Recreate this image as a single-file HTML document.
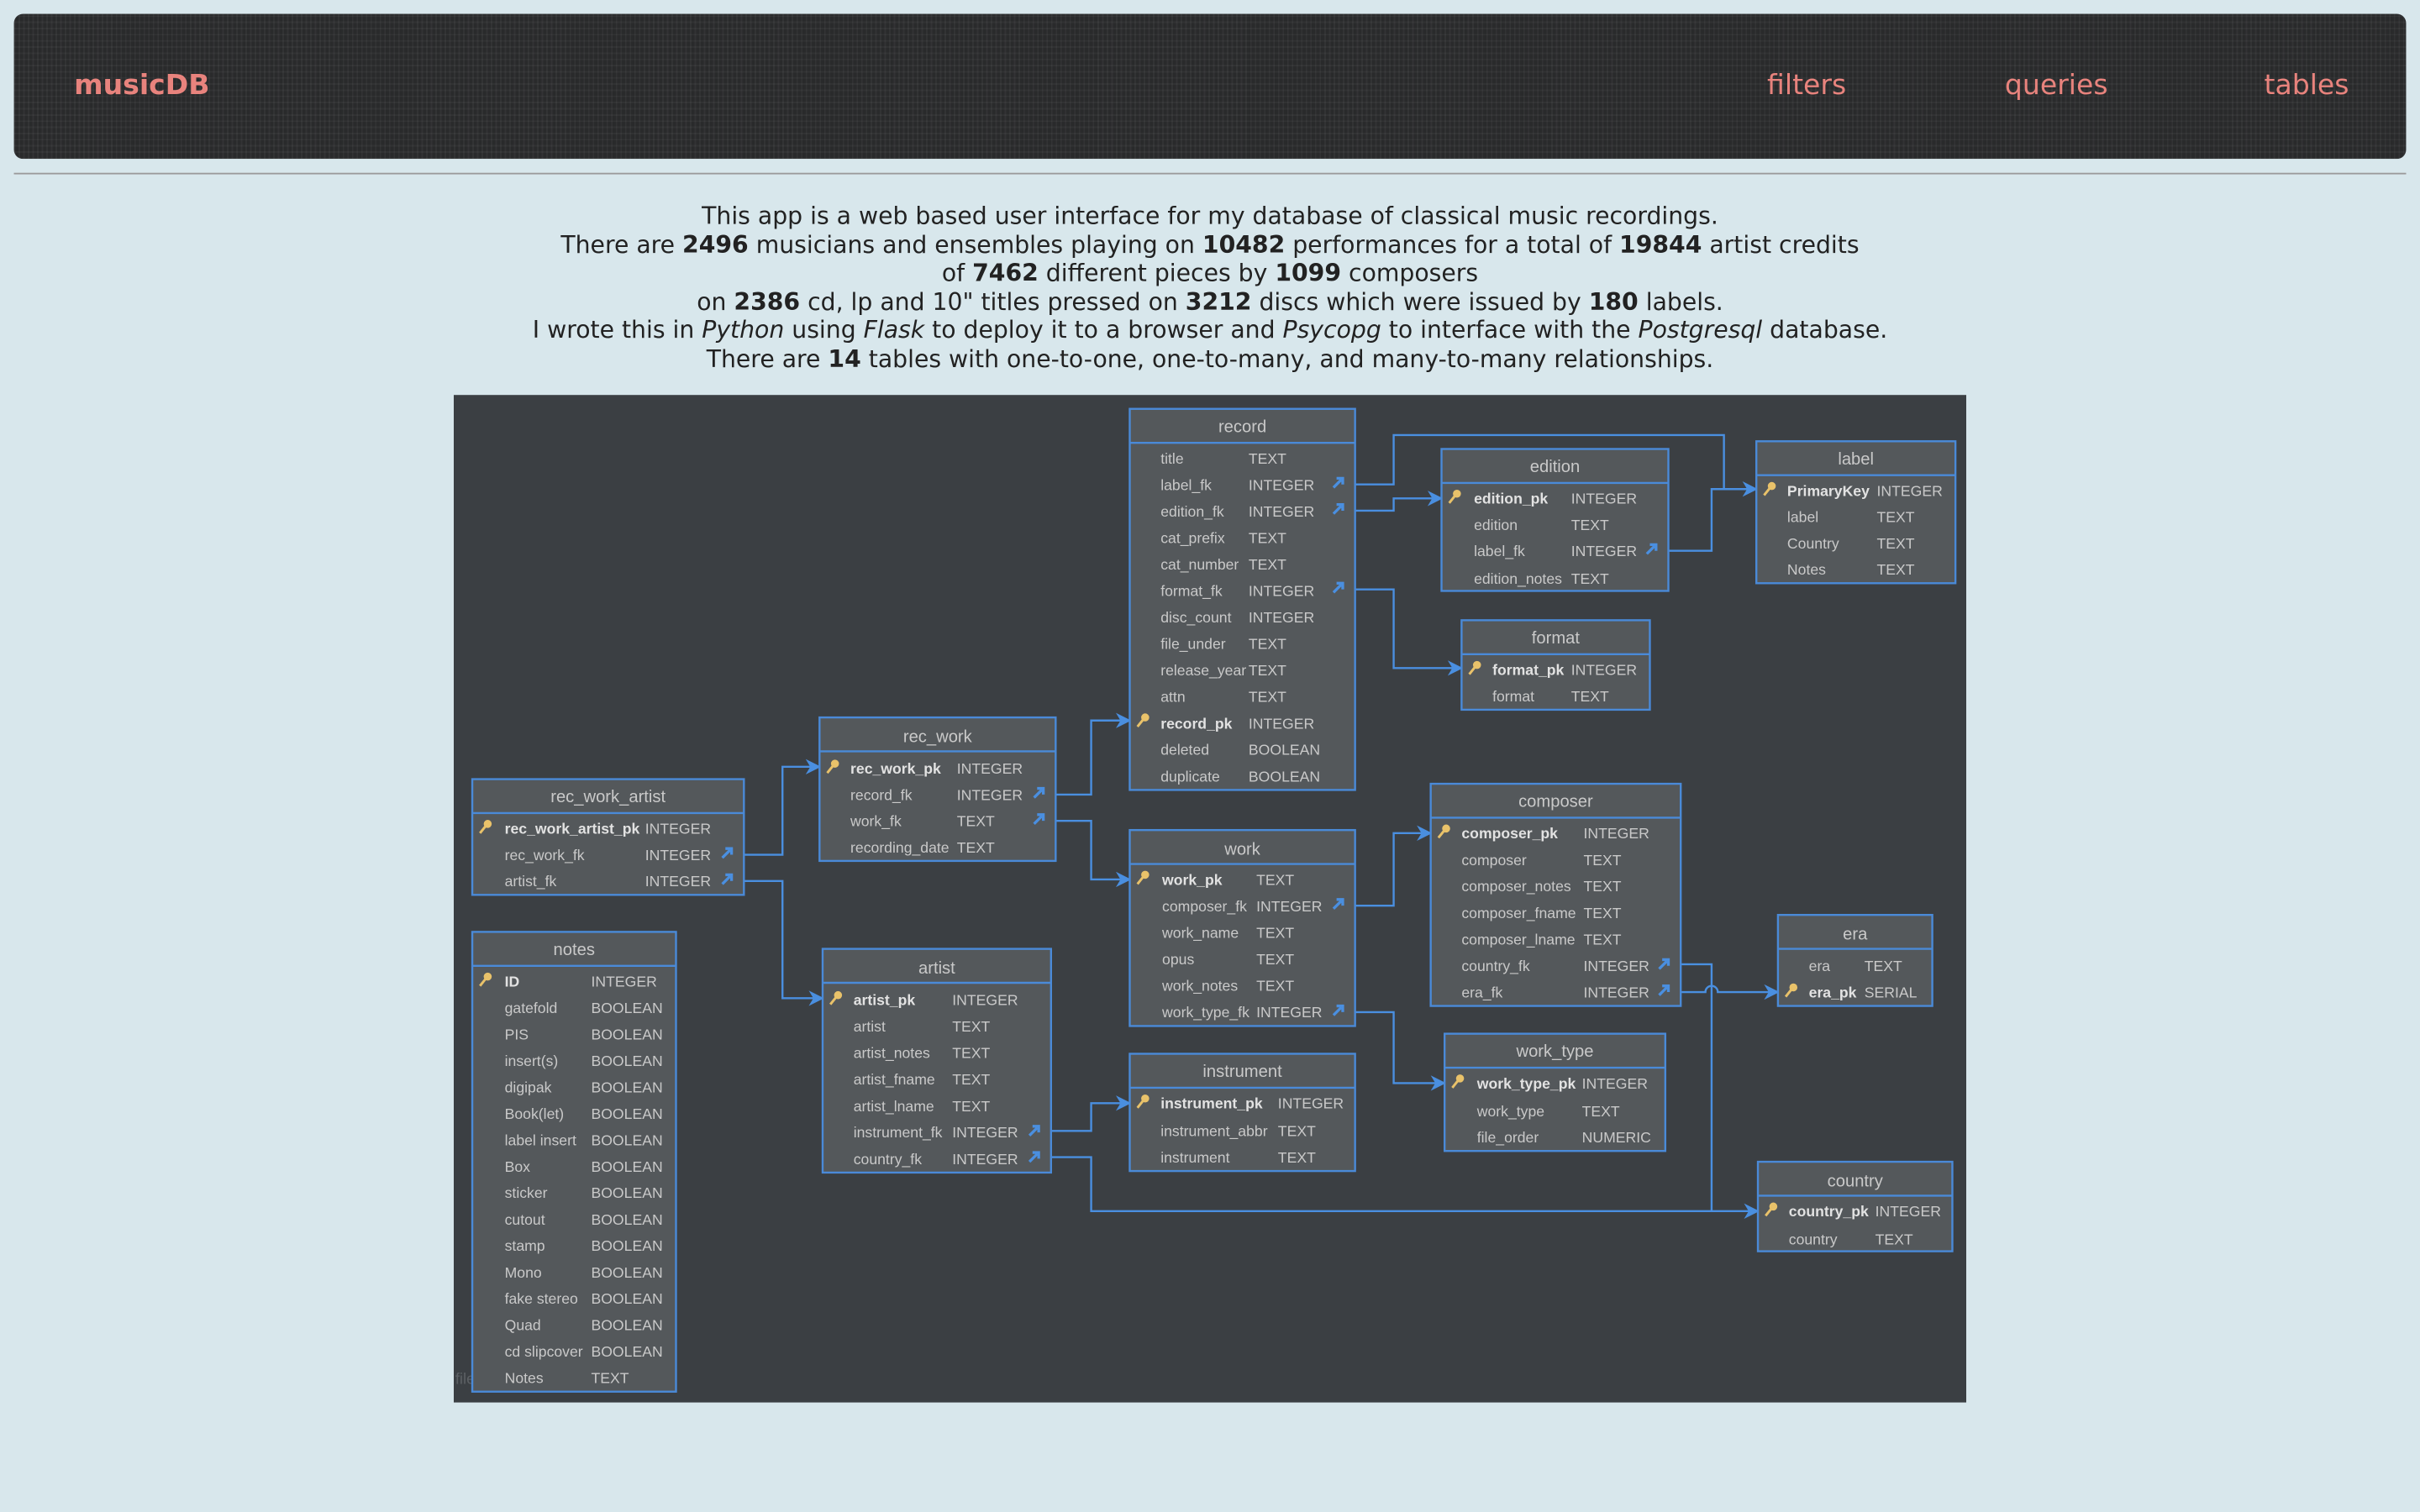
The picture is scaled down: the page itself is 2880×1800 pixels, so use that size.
<!DOCTYPE html>
<html><head><meta charset="utf-8"><style>
html,body{margin:0;padding:0;background:#d8e7ec;width:2880px;height:1800px;overflow:hidden}
#s{position:absolute;left:0;top:0;width:1568px;height:980px;transform:scale(1.836735);transform-origin:0 0;font-family:"DejaVu Sans","Liberation Sans",sans-serif}
#hd{position:absolute;left:9px;top:9px;width:1550px;height:94px;border-radius:6px;background:#292a2b;
background-image:repeating-linear-gradient(90deg,rgba(255,255,255,.045) 0 1px,transparent 1px 3px),repeating-linear-gradient(0deg,rgba(255,255,255,.04) 0 1px,transparent 1px 4px);}
.nv{position:absolute;top:45px;color:#e8837d;font-size:18px}
#hr{position:absolute;left:9px;top:112px;width:1550px;height:1px;background:#9a9a9a}
#tx{position:absolute;left:0;top:131px;width:1568px;text-align:center;font-size:15.4px;line-height:18.5px;color:#222}
svg text{font-family:"Liberation Sans",sans-serif}
</style></head><body><div id="s">
<div id="hd"></div>
<div class="nv" style="left:48px;font-weight:bold;font-size:18px;top:45px">musicDB</div>
<div class="nv" style="left:1145px">filters</div>
<div class="nv" style="left:1299px">queries</div>
<div class="nv" style="left:1467px">tables</div>
<div id="hr"></div>
<div id="tx">This app is a web based user interface for my database of classical music recordings.<br>
There are <b>2496</b> musicians and ensembles playing on <b>10482</b> performances for a total of <b>19844</b> artist credits<br>
of <b>7462</b> different pieces by <b>1099</b> composers<br>
on <b>2386</b> cd, lp and 10" titles pressed on <b>3212</b> discs which were issued by <b>180</b> labels.<br>
I wrote this in <i>Python</i> using <i>Flask</i> to deploy it to a browser and <i>Psycopg</i> to interface with the <i>Postgresql</i> database.<br>
There are <b>14</b> tables with one-to-one, one-to-many, and many-to-many relationships.</div>
<svg style="position:absolute;left:0;top:0" width="1568" height="980" viewBox="0 0 1568 980">
<defs>
<g id="k"><circle cx="3" cy="-2" r="2.6" fill="#e9c26a"/><line x1="2" y1="-1" x2="-2" y2="4" stroke="#e9c26a" stroke-width="1.6"/></g>
<g id="f"><path d="M-3 3 L2 -2 M-1 -3 L3 -3 L3 1" stroke="#4a8fe0" stroke-width="1.8" fill="none"/></g>
<marker id="a" markerWidth="10" markerHeight="10" refX="9" refY="5" orient="auto" markerUnits="userSpaceOnUse"><path d="M0 0 L10 5 L0 10 L3 5Z" fill="#4a8fe0"/></marker>
</defs>
<rect x="294" y="256" width="980" height="653" fill="#3b3f43"/>
<text x="295" y="897" font-size="10" fill="#5c6064">file</text>
<g fill="none" stroke="#4a8fe0" stroke-width="1.3">
<path d="M878 314H903V282H1117V317H1138" marker-end="url(#a)"/>
<path d="M878 331H903V323H934" marker-end="url(#a)"/>
<path d="M878 382H903V433H947" marker-end="url(#a)"/>
<path d="M1081 357H1109V317H1138"/>
<path d="M684 515H707V467H732" marker-end="url(#a)"/>
<path d="M684 532H707V570H732" marker-end="url(#a)"/>
<path d="M482 554H507V497H531" marker-end="url(#a)"/>
<path d="M482 571H507V647H533" marker-end="url(#a)"/>
<path d="M878 587H903V540H927" marker-end="url(#a)"/>
<path d="M878 656H903V702H936" marker-end="url(#a)"/>
<path d="M681 733H707V715H732" marker-end="url(#a)"/>
<path d="M681 750H707V785H1139" marker-end="url(#a)"/>
<path d="M1089 625H1109V785"/>
<path d="M1089 643H1105A4 4 0 0 1 1113 643H1152" marker-end="url(#a)"/>
</g>
<g font-size="9.6" fill="#c9c9c9">
<!-- record -->
<rect x="732" y="265" width="146" height="247" fill="#54585b" stroke="#4a8ad8" stroke-width="1.3"/><line x1="732" y1="287" x2="878" y2="287" stroke="#4a8ad8" stroke-width="1.3"/>
<text x="805" y="280" font-size="11" text-anchor="middle">record</text>
<text x="752" y="300.5">title</text><text x="809" y="300.5">TEXT</text>
<text x="752" y="317.7">label_fk</text><text x="809" y="317.7">INTEGER</text><use href="#f" x="867" y="313"/>
<text x="752" y="334.8">edition_fk</text><text x="809" y="334.8">INTEGER</text><use href="#f" x="867" y="330"/>
<text x="752" y="352">cat_prefix</text><text x="809" y="352">TEXT</text>
<text x="752" y="369.2">cat_number</text><text x="809" y="369.2">TEXT</text>
<text x="752" y="386.3">format_fk</text><text x="809" y="386.3">INTEGER</text><use href="#f" x="867" y="381"/>
<text x="752" y="403.5">disc_count</text><text x="809" y="403.5">INTEGER</text>
<text x="752" y="420.7">file_under</text><text x="809" y="420.7">TEXT</text>
<text x="752" y="437.8">release_year</text><text x="809" y="437.8">TEXT</text>
<text x="752" y="455">attn</text><text x="809" y="455">TEXT</text>
<use href="#k" x="739" y="467"/><text x="752" y="472.2" font-weight="bold" fill="#e2e2e2">record_pk</text><text x="809" y="472.2">INTEGER</text>
<text x="752" y="489.3">deleted</text><text x="809" y="489.3">BOOLEAN</text>
<text x="752" y="506.5">duplicate</text><text x="809" y="506.5">BOOLEAN</text>
<!-- edition -->
<rect x="934" y="291" width="147" height="92" fill="#54585b" stroke="#4a8ad8" stroke-width="1.3"/><line x1="934" y1="313" x2="1081" y2="313" stroke="#4a8ad8" stroke-width="1.3"/>
<text x="1007.5" y="306" font-size="11" text-anchor="middle">edition</text>
<use href="#k" x="941" y="322"/><text x="955" y="326.5" font-weight="bold" fill="#e2e2e2">edition_pk</text><text x="1018" y="326.5">INTEGER</text>
<text x="955" y="343.5">edition</text><text x="1018" y="343.5">TEXT</text>
<text x="955" y="360.5">label_fk</text><text x="1018" y="360.5">INTEGER</text><use href="#f" x="1070" y="356"/>
<text x="955" y="378.5">edition_notes</text><text x="1018" y="378.5">TEXT</text>
<!-- label -->
<rect x="1138" y="286" width="129" height="92" fill="#54585b" stroke="#4a8ad8" stroke-width="1.3"/><line x1="1138" y1="308" x2="1267" y2="308" stroke="#4a8ad8" stroke-width="1.3"/>
<text x="1202.5" y="301" font-size="11" text-anchor="middle">label</text>
<use href="#k" x="1145" y="317"/><text x="1158" y="321.5" font-weight="bold" fill="#e2e2e2">PrimaryKey</text><text x="1216" y="321.5">INTEGER</text>
<text x="1158" y="338.5">label</text><text x="1216" y="338.5">TEXT</text>
<text x="1158" y="355.5">Country</text><text x="1216" y="355.5">TEXT</text>
<text x="1158" y="372.5">Notes</text><text x="1216" y="372.5">TEXT</text>
<!-- format -->
<rect x="947" y="402" width="122" height="58" fill="#54585b" stroke="#4a8ad8" stroke-width="1.3"/><line x1="947" y1="424" x2="1069" y2="424" stroke="#4a8ad8" stroke-width="1.3"/>
<text x="1008" y="417" font-size="11" text-anchor="middle">format</text>
<use href="#k" x="954" y="433"/><text x="967" y="437.5" font-weight="bold" fill="#e2e2e2">format_pk</text><text x="1018" y="437.5">INTEGER</text>
<text x="967" y="454.5">format</text><text x="1018" y="454.5">TEXT</text>
<!-- rec_work -->
<rect x="531" y="465" width="153" height="93" fill="#54585b" stroke="#4a8ad8" stroke-width="1.3"/><line x1="531" y1="487" x2="684" y2="487" stroke="#4a8ad8" stroke-width="1.3"/>
<text x="607.5" y="481" font-size="11" text-anchor="middle">rec_work</text>
<use href="#k" x="538" y="497"/><text x="551" y="501.5" font-weight="bold" fill="#e2e2e2">rec_work_pk</text><text x="620" y="501.5">INTEGER</text>
<text x="551" y="518.5">record_fk</text><text x="620" y="518.5">INTEGER</text><use href="#f" x="673" y="514"/>
<text x="551" y="535.5">work_fk</text><text x="620" y="535.5">TEXT</text><use href="#f" x="673" y="531"/>
<text x="551" y="552.5">recording_date</text><text x="620" y="552.5">TEXT</text>
<!-- rec_work_artist -->
<rect x="306" y="505" width="176" height="75" fill="#54585b" stroke="#4a8ad8" stroke-width="1.3"/><line x1="306" y1="527" x2="482" y2="527" stroke="#4a8ad8" stroke-width="1.3"/>
<text x="394" y="520" font-size="11" text-anchor="middle">rec_work_artist</text>
<use href="#k" x="313" y="536"/><text x="327" y="540.5" font-weight="bold" fill="#e2e2e2">rec_work_artist_pk</text><text x="418" y="540.5">INTEGER</text>
<text x="327" y="557.5">rec_work_fk</text><text x="418" y="557.5">INTEGER</text><use href="#f" x="471" y="553"/>
<text x="327" y="574.5">artist_fk</text><text x="418" y="574.5">INTEGER</text><use href="#f" x="471" y="570"/>
<!-- notes -->
<rect x="306" y="604" width="132" height="298" fill="#54585b" stroke="#4a8ad8" stroke-width="1.3"/><line x1="306" y1="626" x2="438" y2="626" stroke="#4a8ad8" stroke-width="1.3"/>
<text x="372" y="619" font-size="11" text-anchor="middle">notes</text>
<use href="#k" x="313" y="635"/><text x="327" y="639.5" font-weight="bold" fill="#e2e2e2">ID</text><text x="383" y="639.5">INTEGER</text>
<text x="327" y="656.6">gatefold</text><text x="383" y="656.6">BOOLEAN</text>
<text x="327" y="673.8">PIS</text><text x="383" y="673.8">BOOLEAN</text>
<text x="327" y="690.9">insert(s)</text><text x="383" y="690.9">BOOLEAN</text>
<text x="327" y="708">digipak</text><text x="383" y="708">BOOLEAN</text>
<text x="327" y="725.2">Book(let)</text><text x="383" y="725.2">BOOLEAN</text>
<text x="327" y="742.3">label insert</text><text x="383" y="742.3">BOOLEAN</text>
<text x="327" y="759.4">Box</text><text x="383" y="759.4">BOOLEAN</text>
<text x="327" y="776.5">sticker</text><text x="383" y="776.5">BOOLEAN</text>
<text x="327" y="793.7">cutout</text><text x="383" y="793.7">BOOLEAN</text>
<text x="327" y="810.8">stamp</text><text x="383" y="810.8">BOOLEAN</text>
<text x="327" y="828">Mono</text><text x="383" y="828">BOOLEAN</text>
<text x="327" y="845.1">fake stereo</text><text x="383" y="845.1">BOOLEAN</text>
<text x="327" y="862.2">Quad</text><text x="383" y="862.2">BOOLEAN</text>
<text x="327" y="879.4">cd slipcover</text><text x="383" y="879.4">BOOLEAN</text>
<text x="327" y="896.5">Notes</text><text x="383" y="896.5">TEXT</text>
<!-- artist -->
<rect x="533" y="615" width="148" height="145" fill="#54585b" stroke="#4a8ad8" stroke-width="1.3"/><line x1="533" y1="637" x2="681" y2="637" stroke="#4a8ad8" stroke-width="1.3"/>
<text x="607" y="631" font-size="11" text-anchor="middle">artist</text>
<use href="#k" x="540" y="647"/><text x="553" y="651.5" font-weight="bold" fill="#e2e2e2">artist_pk</text><text x="617" y="651.5">INTEGER</text>
<text x="553" y="668.7">artist</text><text x="617" y="668.7">TEXT</text>
<text x="553" y="685.8">artist_notes</text><text x="617" y="685.8">TEXT</text>
<text x="553" y="703">artist_fname</text><text x="617" y="703">TEXT</text>
<text x="553" y="720.2">artist_lname</text><text x="617" y="720.2">TEXT</text>
<text x="553" y="737.3">instrument_fk</text><text x="617" y="737.3">INTEGER</text><use href="#f" x="670" y="733"/>
<text x="553" y="754.5">country_fk</text><text x="617" y="754.5">INTEGER</text><use href="#f" x="670" y="750"/>
<!-- work -->
<rect x="732" y="538" width="146" height="127" fill="#54585b" stroke="#4a8ad8" stroke-width="1.3"/><line x1="732" y1="560" x2="878" y2="560" stroke="#4a8ad8" stroke-width="1.3"/>
<text x="805" y="554" font-size="11" text-anchor="middle">work</text>
<use href="#k" x="739" y="569"/><text x="753" y="573.5" font-weight="bold" fill="#e2e2e2">work_pk</text><text x="814" y="573.5">TEXT</text>
<text x="753" y="590.7">composer_fk</text><text x="814" y="590.7">INTEGER</text><use href="#f" x="867" y="586"/>
<text x="753" y="607.8">work_name</text><text x="814" y="607.8">TEXT</text>
<text x="753" y="625">opus</text><text x="814" y="625">TEXT</text>
<text x="753" y="642.2">work_notes</text><text x="814" y="642.2">TEXT</text>
<text x="753" y="659.3">work_type_fk</text><text x="814" y="659.3">INTEGER</text><use href="#f" x="867" y="655"/>
<!-- composer -->
<rect x="927" y="508" width="162" height="144" fill="#54585b" stroke="#4a8ad8" stroke-width="1.3"/><line x1="927" y1="530" x2="1089" y2="530" stroke="#4a8ad8" stroke-width="1.3"/>
<text x="1008" y="523" font-size="11" text-anchor="middle">composer</text>
<use href="#k" x="934" y="539"/><text x="947" y="543.5" font-weight="bold" fill="#e2e2e2">composer_pk</text><text x="1026" y="543.5">INTEGER</text>
<text x="947" y="560.7">composer</text><text x="1026" y="560.7">TEXT</text>
<text x="947" y="577.8">composer_notes</text><text x="1026" y="577.8">TEXT</text>
<text x="947" y="595">composer_fname</text><text x="1026" y="595">TEXT</text>
<text x="947" y="612.2">composer_lname</text><text x="1026" y="612.2">TEXT</text>
<text x="947" y="629.3">country_fk</text><text x="1026" y="629.3">INTEGER</text><use href="#f" x="1078" y="625"/>
<text x="947" y="646.5">era_fk</text><text x="1026" y="646.5">INTEGER</text><use href="#f" x="1078" y="642"/>
<!-- instrument -->
<rect x="732" y="683" width="146" height="76" fill="#54585b" stroke="#4a8ad8" stroke-width="1.3"/><line x1="732" y1="705" x2="878" y2="705" stroke="#4a8ad8" stroke-width="1.3"/>
<text x="805" y="698" font-size="11" text-anchor="middle">instrument</text>
<use href="#k" x="739" y="714"/><text x="752" y="718.5" font-weight="bold" fill="#e2e2e2">instrument_pk</text><text x="828" y="718.5">INTEGER</text>
<text x="752" y="736.5">instrument_abbr</text><text x="828" y="736.5">TEXT</text>
<text x="752" y="753.5">instrument</text><text x="828" y="753.5">TEXT</text>
<!-- work_type -->
<rect x="936" y="670" width="143" height="76" fill="#54585b" stroke="#4a8ad8" stroke-width="1.3"/><line x1="936" y1="692" x2="1079" y2="692" stroke="#4a8ad8" stroke-width="1.3"/>
<text x="1007.5" y="685" font-size="11" text-anchor="middle">work_type</text>
<use href="#k" x="943" y="701"/><text x="957" y="705.5" font-weight="bold" fill="#e2e2e2">work_type_pk</text><text x="1025" y="705.5">INTEGER</text>
<text x="957" y="723.5">work_type</text><text x="1025" y="723.5">TEXT</text>
<text x="957" y="740.5">file_order</text><text x="1025" y="740.5">NUMERIC</text>
<!-- era -->
<rect x="1152" y="593" width="100" height="59" fill="#54585b" stroke="#4a8ad8" stroke-width="1.3"/><line x1="1152" y1="615" x2="1252" y2="615" stroke="#4a8ad8" stroke-width="1.3"/>
<text x="1202" y="609" font-size="11" text-anchor="middle">era</text>
<text x="1172" y="629.5">era</text><text x="1208" y="629.5">TEXT</text>
<use href="#k" x="1159" y="642"/><text x="1172" y="646.5" font-weight="bold" fill="#e2e2e2">era_pk</text><text x="1208" y="646.5">SERIAL</text>
<!-- country -->
<rect x="1139" y="753" width="126" height="58" fill="#54585b" stroke="#4a8ad8" stroke-width="1.3"/><line x1="1139" y1="775" x2="1265" y2="775" stroke="#4a8ad8" stroke-width="1.3"/>
<text x="1202" y="769" font-size="11" text-anchor="middle">country</text>
<use href="#k" x="1146" y="784"/><text x="1159" y="788.5" font-weight="bold" fill="#e2e2e2">country_pk</text><text x="1215" y="788.5">INTEGER</text>
<text x="1159" y="806.5">country</text><text x="1215" y="806.5">TEXT</text>
</g>
</svg>
</div></body></html>
